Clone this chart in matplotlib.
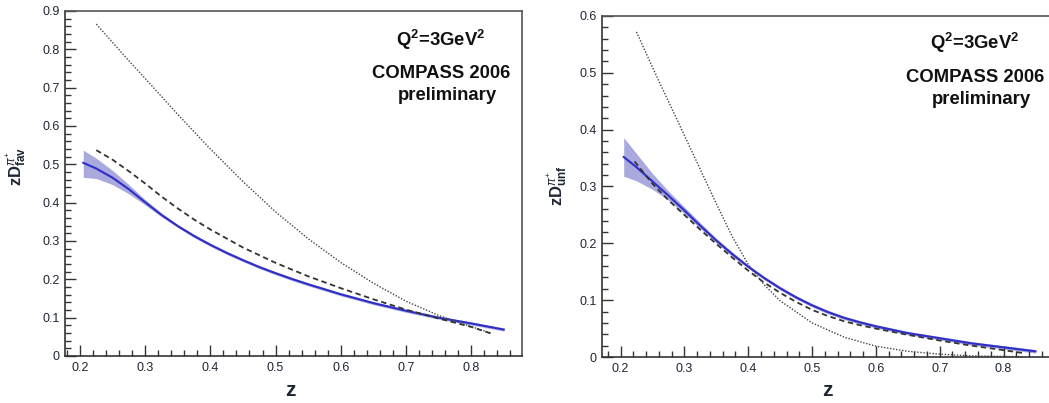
import matplotlib
matplotlib.use("Agg")
import matplotlib.pyplot as plt
from matplotlib.ticker import MultipleLocator, FixedLocator, FuncFormatter

plt.rcParams['font.family'] = ['Liberation Sans', 'DejaVu Sans']
plt.rcParams['mathtext.fontset'] = 'custom'
plt.rcParams['mathtext.rm'] = 'Liberation Sans'
plt.rcParams['mathtext.bf'] = 'Liberation Sans:bold'
plt.rcParams['mathtext.it'] = 'Liberation Sans:italic'
plt.rcParams['mathtext.sf'] = 'Liberation Sans'

# ---------------- Left panel: favoured ----------------
fav_z = [0.205, 0.225, 0.25, 0.275, 0.3, 0.325, 0.35, 0.375, 0.4, 0.425, 0.45, 0.475, 0.5,
         0.525, 0.55, 0.6, 0.65, 0.7, 0.75, 0.8, 0.85]
fav_fit = [0.504, 0.489, 0.465, 0.435, 0.401, 0.368, 0.339, 0.313, 0.290, 0.269, 0.250, 0.232, 0.216,
           0.201, 0.187, 0.161, 0.138, 0.118, 0.100, 0.085, 0.069]
fav_lo = [0.466, 0.463, 0.447, 0.423, 0.394, 0.363, 0.335, 0.309, 0.286, 0.265, 0.246, 0.228, 0.212,
          0.197, 0.183, 0.157, 0.134, 0.114, 0.096, 0.081, 0.065]
fav_hi = [0.537, 0.516, 0.484, 0.447, 0.408, 0.373, 0.343, 0.317, 0.294, 0.273, 0.254, 0.236, 0.220,
          0.205, 0.191, 0.165, 0.142, 0.122, 0.104, 0.089, 0.073]

fav_dash_z = [0.225, 0.25, 0.275, 0.3, 0.325, 0.35, 0.375, 0.4, 0.45, 0.5, 0.55, 0.6, 0.65, 0.7, 0.75, 0.8, 0.83]
fav_dash = [0.537, 0.512, 0.482, 0.450, 0.416, 0.385, 0.356, 0.330, 0.283, 0.243, 0.208, 0.177, 0.148,
            0.121, 0.098, 0.076, 0.059]

fav_dot_z = [0.225, 0.25, 0.275, 0.3, 0.35, 0.4, 0.45, 0.5, 0.55, 0.6, 0.65, 0.7, 0.75, 0.78, 0.83]
fav_dot = [0.866, 0.818, 0.770, 0.724, 0.630, 0.540, 0.455, 0.376, 0.306, 0.244, 0.190, 0.143, 0.106,
           0.088, 0.060]

# ---------------- Right panel: unfavoured ----------------
unf_z = [0.205, 0.225, 0.25, 0.275, 0.3, 0.325, 0.35, 0.375, 0.4, 0.425, 0.45, 0.475, 0.5,
         0.525, 0.55, 0.575, 0.6, 0.65, 0.7, 0.75, 0.8, 0.85]
unf_fit = [0.352, 0.334, 0.309, 0.284, 0.258, 0.231, 0.205, 0.181, 0.159, 0.139, 0.121, 0.105, 0.091,
           0.079, 0.069, 0.061, 0.054, 0.042, 0.033, 0.024, 0.017, 0.010]
unf_lo = [0.318, 0.310, 0.295, 0.276, 0.252, 0.226, 0.201, 0.177, 0.156, 0.136, 0.118, 0.102, 0.088,
          0.076, 0.066, 0.058, 0.051, 0.039, 0.030, 0.021, 0.014, 0.007]
unf_hi = [0.386, 0.358, 0.323, 0.292, 0.264, 0.236, 0.209, 0.185, 0.162, 0.142, 0.124, 0.108, 0.094,
          0.082, 0.072, 0.064, 0.057, 0.045, 0.036, 0.027, 0.020, 0.013]

unf_dash_z = [0.222, 0.25, 0.275, 0.3, 0.325, 0.35, 0.375, 0.4, 0.425, 0.45, 0.475, 0.5,
              0.525, 0.55, 0.575, 0.6, 0.65, 0.7, 0.75, 0.8, 0.83]
unf_dash = [0.344, 0.305, 0.276, 0.250, 0.224, 0.199, 0.175, 0.152, 0.131, 0.113, 0.097, 0.083,
            0.072, 0.063, 0.056, 0.050, 0.039, 0.029, 0.020, 0.012, 0.007]

unf_dot_z = [0.225, 0.25, 0.275, 0.3, 0.325, 0.35, 0.375, 0.4, 0.425, 0.45, 0.5, 0.55, 0.6,
             0.65, 0.7, 0.75, 0.8, 0.83]
unf_dot = [0.572, 0.510, 0.450, 0.390, 0.330, 0.270, 0.212, 0.163, 0.127, 0.099, 0.060, 0.035, 0.019,
           0.010, 0.005, 0.002, 0.001, 0.0005]

x_ticks = [0.2, 0.3, 0.4, 0.5, 0.6, 0.7, 0.8]
x_tick_labels = ['0.2', '0.3', '0.4', '0.5', '0.6', '0.7', '0.8']

W, H = 1049, 403
fig = plt.figure(figsize=(W / 100, H / 100), dpi=100)

def px_axes(l, r, t, b):
    return fig.add_axes([l / W, (H - b) / H, (r - l) / W, (b - t) / H])

ax1 = px_axes(65, 522, 11, 356)
ax2 = px_axes(602, 1054, 16, 357)

BLUE = '#2f2fc8'
BAND = '#8c8cd4'
TXT = '#1e2533'

def style(ax, xlim, ylim, ylab, label_xy, text_x, text_ys):
    ax.set_xlim(*xlim)
    ax.set_ylim(*ylim)
    ax.xaxis.set_major_locator(FixedLocator(x_ticks))
    ax.set_xticklabels(x_tick_labels)
    ax.xaxis.set_minor_locator(MultipleLocator(0.02))
    ax.yaxis.set_major_locator(MultipleLocator(0.1))
    ax.yaxis.set_minor_locator(MultipleLocator(0.02))
    ax.yaxis.set_major_formatter(FuncFormatter(
        lambda v, p: '0' if abs(v) < 1e-9 else ('%.1f' % v)))
    ax.tick_params(which='both', direction='in', top=False, right=False,
                   labelsize=9, labelcolor=TXT, color='#333333', width=1.0)
    ax.tick_params(which='major', length=8, pad=4)
    ax.tick_params(which='minor', length=4)
    for s in ['left', 'bottom']:
        ax.spines[s].set_color('#333333')
        ax.spines[s].set_linewidth(1.2)
    for s in ['top', 'right']:
        ax.spines[s].set_color('#555555')
        ax.spines[s].set_linewidth(1.2)
    fig.text(label_xy[0] / W, 1 - label_xy[1] / H, ylab, rotation=90,
             ha='center', va='center', fontsize=12, color=TXT)
    fig.text(text_x / W, 1 - text_ys[0] / H, r'Q$^{\mathbf{2}}$=3GeV$^{\mathbf{2}}$',
             ha='center', va='center', fontsize=13.3, fontweight='bold', color='#111111')
    fig.text(text_x / W, 1 - text_ys[1] / H, 'COMPASS 2006',
             ha='center', va='center', fontsize=13.3, fontweight='bold', color='#111111')
    fig.text((text_x + 6) / W, 1 - text_ys[2] / H, 'preliminary',
             ha='center', va='center', fontsize=13.3, fontweight='bold', color='#111111')

# Left panel
ax1.fill_between(fav_z, fav_lo, fav_hi, color=BAND, alpha=0.75, lw=0)
ax1.plot(fav_z, fav_fit, color=BLUE, lw=1.5)
ax1.plot(fav_dash_z, fav_dash, color='#333333', lw=1.3, ls=(0, (3, 2)))
ax1.plot(fav_dot_z, fav_dot, color='#444444', lw=1.0, ls=(0, (1, 1.2)))
style(ax1, (0.177, 0.878), (0, 0.9),
      r'$\mathbf{zD}^{\pi^{+}}_{\mathbf{fav}}$', (17, 166), 441, (40, 73, 96))
fig.text(290 / W, 1 - 391 / H, 'z', ha='center', va='center', fontsize=15,
         fontweight='bold', color=TXT)

# Right panel
ax2.fill_between(unf_z, unf_lo, unf_hi, color=BAND, alpha=0.75, lw=0)
ax2.plot(unf_z, unf_fit, color=BLUE, lw=1.5)
ax2.plot(unf_dash_z, unf_dash, color='#333333', lw=1.3, ls=(0, (3, 2)))
ax2.plot(unf_dot_z, unf_dot, color='#444444', lw=1.0, ls=(0, (1, 1.2)))
style(ax2, (0.171, 0.879), (0, 0.6),
      r'$\mathbf{zD}^{\pi^{+}}_{\mathbf{unf}}$', (558, 186), 975, (43, 78, 99))
fig.text(827 / W, 1 - 391 / H, 'z', ha='center', va='center', fontsize=15,
         fontweight='bold', color=TXT)

fig.savefig('out.png', dpi=100)
